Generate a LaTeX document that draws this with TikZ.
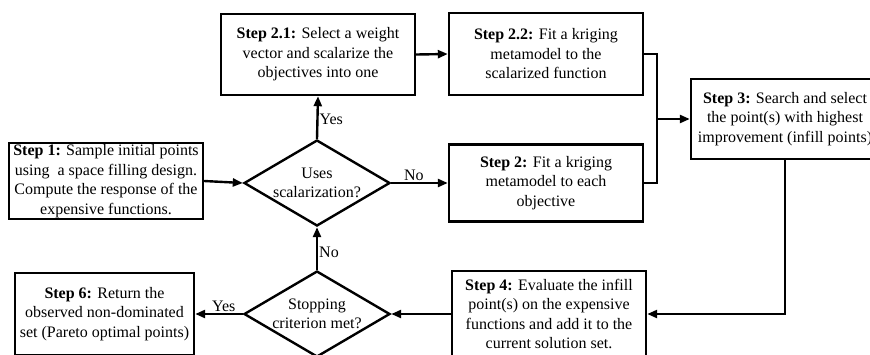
\documentclass[tikz,border=0pt]{standalone}
\usepackage{fontspec}
\setmainfont{Liberation Serif}
\usetikzlibrary{arrows.meta,shapes.geometric}
\tikzset{
  txt/.style={font=\fontsize{16}{19.5}\selectfont, align=center},
  stepbox/.style={txt, draw, line width=2.4pt, rectangle, inner sep=0pt, minimum width=194pt},
  decision/.style={draw, line width=2.4pt, diamond, inner sep=0pt, minimum width=146pt, minimum height=86pt},
  conn/.style={line width=2.4pt},
  arr/.style={conn, -{Triangle[length=10pt,width=8pt]}},
  lbl/.style={font=\fontsize{16}{19.5}\selectfont, inner sep=1pt}
}
\begin{document}
\begin{tikzpicture}[x=1pt,y=-1pt]
\path[use as bounding box, clip] (0,0) rectangle (870,354);
\node[stepbox, minimum height=76pt] (s1) at (106,181) {\textbf{Step 1:} Sample initial points\\using\ \ a space filling design.\\Compute the response of the\\expensive functions.};
\node[stepbox, minimum height=81pt] (s21) at (318,54.5) {\textbf{Step 2.1:} Select a weight\\vector and scalarize the\\objectives into one};
\node[stepbox, minimum height=82pt] (s22) at (546,54) {\textbf{Step 2.2:} Fit a kriging\\metamodel to the\\scalarized function};
\node[stepbox, minimum height=77pt] (s2) at (546,183) {\textbf{Step 2:} Fit a kriging\\metamodel to each\\objective};
\node[stepbox, minimum width=188pt, minimum height=80pt] (s3) at (785,119) {\textbf{Step 3:} Search and select\\the point(s) with highest\\improvement (infill points)};
\node[stepbox, minimum height=86pt] (s4) at (549,314) {\textbf{Step 4:} Evaluate the infill\\point(s) on the expensive\\functions and add it to the\\current solution set.};
\node[stepbox, minimum width=179pt, minimum height=82pt] (s6) at (104.5,314) {\textbf{Step 6:} Return the\\observed non-dominated\\set (Pareto optimal points)};
\node[decision] (d1) at (317,183) {};
\node[txt] (d1t) at (d1.center) {Uses\\scalarization?};
\node[decision] (d2) at (317,314) {};
\node[txt] (d2t) at (d2.center) {Stopping\\criterion met?};
\coordinate (j) at (657,119);
\draw[arr] (s1.east) -- (d1.west);
\draw[arr] (d1.north) -- node[lbl, right, pos=0.45] (yes1) {Yes} (s21.south);
\draw[arr] (d1.east) -- node[lbl, above, pos=0.4] (no1) {No} (s2.west);
\draw[arr] (s21.east) -- (s22.west);
\draw[conn] (s22.east) -| (j) |- (s2.east);
\draw[arr] (j) -- (s3.west);
\draw[arr] (s3.south) |- (s4.east);
\draw[arr] (s4.west) -- (d2.east);
\draw[arr] (d2.west) -- node[lbl, above, pos=0.4] (yes2) {Yes} (s6.east);
\draw[arr] (d2.north) -- node[lbl, right, pos=0.4] (no2) {No} (d1.south);
\end{tikzpicture}
\end{document}
